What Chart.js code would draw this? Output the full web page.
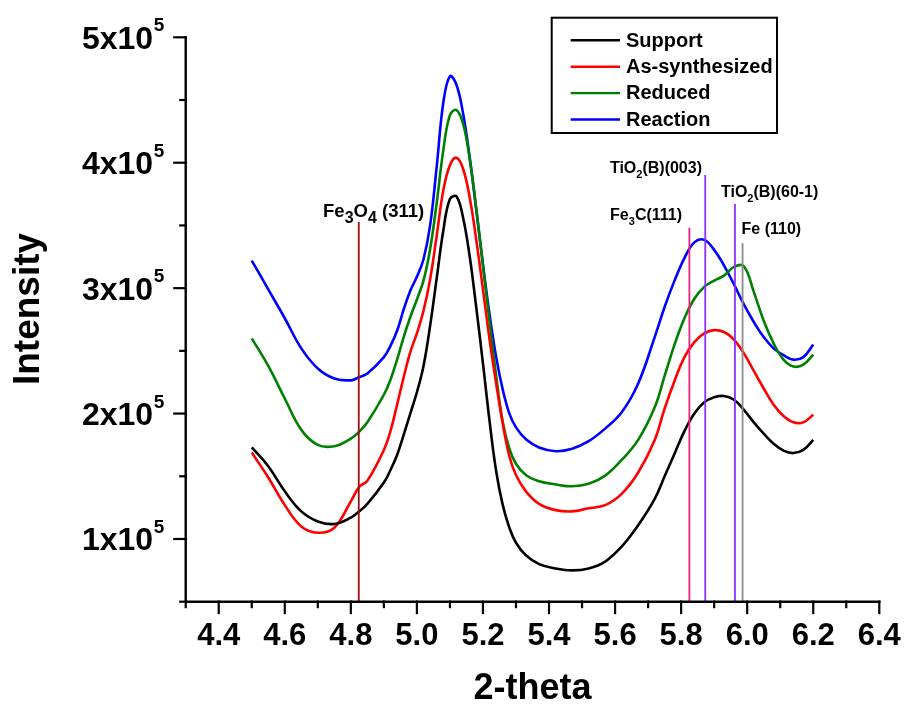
<!DOCTYPE html>
<html>
<head>
<meta charset="utf-8">
<script src="https://cdn.jsdelivr.net/npm/chart.js@4.4.1/dist/chart.umd.min.js"></script>
<style>
  html, body { margin: 0; padding: 0; background: #ffffff; }
  #wrap { width: 906px; height: 707px; position: relative; }
</style>
</head>
<body>
<div id="wrap"><canvas id="xrd" width="906" height="707"></canvas></div>
<script>
// 2-theta sample positions shared by all patterns
const theta = [4.50, 4.55, 4.60, 4.65, 4.70, 4.75, 4.80, 4.825, 4.85, 4.90,
  4.92, 4.94, 4.96, 4.98, 5.00, 5.02, 5.04, 5.06, 5.08, 5.10,
  5.12, 5.14, 5.16, 5.18, 5.20, 5.22, 5.24, 5.26, 5.28, 5.30,
  5.33, 5.37, 5.42, 5.47, 5.52, 5.57, 5.62, 5.67, 5.72, 5.75,
  5.78, 5.81, 5.84, 5.87, 5.90, 5.93, 5.96, 5.99, 6.02, 6.05,
  6.08, 6.11, 6.14, 6.17, 6.20];

// Intensities (counts)
const support = [173000, 158000, 138000, 122000, 114000, 112000, 117000, 122000, 128000, 145000,
  155000, 167000, 183000, 200000, 217000, 238000, 270000, 308000, 346000, 371000,
  373000, 356000, 325000, 284000, 240000, 194000, 154000, 127000, 109000, 97000,
  87000, 80000, 76500, 75000, 76500, 82000, 94000, 111000, 132000, 150000,
  168000, 186000, 200000, 209000, 213000, 214000, 211000, 203000, 193000, 184000,
  176000, 170500, 168500, 171000, 179000];

const asSynthesized = [169000, 149000, 127000, 110000, 105000, 109000, 130000, 141500, 146500, 171000,
  186000, 207000, 229000, 249000, 264000, 282000, 307000, 342000, 378000, 398000,
  404000, 395000, 372000, 338000, 299000, 259000, 224000, 192000, 166000, 151000,
  138000, 128000, 123000, 122000, 124500, 127000, 136000, 153000, 179000, 204000,
  226000, 245000, 257000, 264000, 266500, 265000, 259000, 248000, 234000, 220000,
  207000, 198000, 193000, 193000, 199000];

const reduced = [260000, 238000, 212000, 187000, 175000, 174000, 180000, 185500, 193000, 215000,
  227000, 243000, 261000, 277000, 291000, 306000, 331000, 368000, 410000, 438000,
  442000, 431000, 403000, 363000, 318000, 273000, 230000, 193000, 172000, 160000,
  151000, 146000, 143500, 142000, 144000, 150500, 163000, 179000, 205000, 230000,
  255000, 276000, 291500, 301000, 306000, 310000, 317000, 317500, 297000, 274000,
  256000, 243000, 237500, 239000, 247000];

const reaction = [322000, 299000, 276000, 252000, 236000, 228000, 226500, 229000, 232000, 245000,
  254000, 266000, 283000, 298000, 309000, 323000, 350000, 397000, 448000, 469000,
  462000, 439000, 404000, 362000, 319000, 279000, 245000, 219000, 200000, 189000,
  179500, 173000, 170000, 172000, 178000, 188000, 201000, 224000, 261000, 285000,
  306000, 324000, 336500, 338500, 330500, 318000, 303000, 287000, 273000, 261000,
  252000, 246500, 243000, 245000, 255000];

const seriesNames = ['Support', 'As-synthesized', 'Reduced', 'Reaction'];
const seriesValues = [support, asSynthesized, reduced, reaction];
const seriesColors = ['#000000', '#ff0000', '#008000', '#0000ff'];

// Axis ticks
const xTicks = [4.3, 4.4, 4.5, 4.6, 4.7, 4.8, 4.9, 5.0, 5.1, 5.2, 5.3,
  5.4, 5.5, 5.6, 5.7, 5.8, 5.9, 6.0, 6.1, 6.2, 6.3, 6.4];
const yTicks = [50000, 100000, 150000, 200000, 250000, 300000, 350000, 400000, 450000, 500000];

// Reference reflections: position (2-theta) and marker height (counts)
const refPositions = [4.824, 5.825, 5.873, 5.963, 5.986];
const refHeights = [352700, 348200, 390200, 367100, 335800];
// Label pieces: [text, isSubscript]
const refLabels = [
  [['Fe', 0], ['3', 1], ['O', 0], ['4', 1], [' (311)', 0]],
  [['Fe', 0], ['3', 1], ['C(111)', 0]],
  [['TiO', 0], ['2', 1], ['(B)(003)', 0]],
  [['TiO', 0], ['2', 1], ['(B)(60-1)', 0]],
  [['Fe (110)', 0]]
];

const FONT = 'Arial, "Liberation Sans", Helvetica, sans-serif';
const refStyle = [
  { color: '#9b1010', size: 18.5, sub: 16, drop: 6, dx: -35.7, dy: -5 },
  { color: '#f0207f', size: 16, sub: 11, drop: 5, dx: -79.3, dy: -7.7 },
  { color: '#8f2fff', size: 16, sub: 11, drop: 5, dx: -95.3, dy: -1.7 },
  { color: '#8f2fff', size: 16, sub: 11, drop: 5, dx: -14, dy: -7.3 },
  { color: '#8a8a8a', size: 16, sub: 11, drop: 5, dx: -1, dy: -9.3 }
];

function drawRich(ctx, pieces, x, baseline, st) {
  let cx = x;
  ctx.textAlign = 'left';
  ctx.textBaseline = 'alphabetic';
  for (const [txt, sub] of pieces) {
    ctx.font = 'bold ' + (sub ? st.sub : st.size) + 'px ' + FONT;
    ctx.fillText(txt, cx, baseline + (sub ? st.drop : 0));
    cx += ctx.measureText(txt).width;
  }
}

// Reference lines and their labels, drawn over the patterns
const refMarkers = {
  id: 'refMarkers',
  afterDatasetsDraw(chart) {
    const { ctx, chartArea: a, scales: { x, y } } = chart;
    ctx.save();
    refPositions.forEach((pos, i) => {
      const st = refStyle[i];
      const px = x.getPixelForValue(pos);
      const top = y.getPixelForValue(refHeights[i]);
      ctx.strokeStyle = st.color;
      ctx.lineWidth = 1.8;
      ctx.beginPath();
      ctx.moveTo(px, a.bottom);
      ctx.lineTo(px, top);
      ctx.stroke();
      ctx.fillStyle = '#000';
      drawRich(ctx, refLabels[i], px + st.dx, top + st.dy, st);
    });
    ctx.restore();
  }
};

// Axis lines, tick marks, power-of-ten tick labels, y title and the boxed legend
const axisDecor = {
  id: 'axisDecor',
  afterDraw(chart) {
    const { ctx, chartArea: a, scales: { x, y } } = chart;
    ctx.save();
    ctx.strokeStyle = '#000';
    ctx.lineWidth = 2.4;
    ctx.beginPath();
    ctx.moveTo(a.left, a.top - 1.2);
    ctx.lineTo(a.left, a.bottom);
    ctx.moveTo(a.left, a.bottom);
    ctx.lineTo(a.right + 1.2, a.bottom);
    ctx.stroke();

    ctx.lineWidth = 2.2;
    x.ticks.forEach(t => {
      const px = x.getPixelForValue(t.value);
      const major = Math.round(t.value * 10) % 2 === 0;
      ctx.beginPath();
      ctx.moveTo(px, a.bottom - 1.2);
      ctx.lineTo(px, a.bottom + (major ? 12.5 : 6.5));
      ctx.stroke();
    });
    y.ticks.forEach(t => {
      const py = y.getPixelForValue(t.value);
      const major = Math.round(t.value / 50000) % 2 === 0;
      ctx.beginPath();
      ctx.moveTo(a.left + 1.2, py);
      ctx.lineTo(a.left - (major ? 12.5 : 6.5), py);
      ctx.stroke();
      if (major) {
        const mant = String(Math.round(t.value / 100000));
        ctx.fillStyle = '#000';
        ctx.textBaseline = 'alphabetic';
        ctx.textAlign = 'right';
        ctx.font = 'bold 19px ' + FONT;
        const right = a.left - 21.5;
        const supW = ctx.measureText('5').width;
        ctx.fillText('5', right, py - 6);
        ctx.font = 'bold 32px ' + FONT;
        ctx.fillText(mant + 'x10', right - supW - 0.5, py + 11.5);
      }
    });

    // y axis title
    ctx.save();
    ctx.translate(29, 309);
    ctx.rotate(-Math.PI / 2);
    ctx.fillStyle = '#000';
    ctx.font = 'bold 37px ' + FONT;
    ctx.textAlign = 'center';
    ctx.textBaseline = 'middle';
    ctx.fillText('Intensity', 0, 0);
    ctx.restore();

    // legend
    const box = { left: 551.7, top: 17.7, right: 777, bottom: 133 };
    ctx.lineWidth = 2;
    ctx.strokeStyle = '#000';
    ctx.strokeRect(box.left, box.top, box.right - box.left, box.bottom - box.top);
    chart.data.datasets.forEach((ds, i) => {
      const ry = 40.3 + i * 26.4;
      ctx.strokeStyle = ds.borderColor;
      ctx.lineWidth = 2.4;
      ctx.beginPath();
      ctx.moveTo(570.7, ry);
      ctx.lineTo(620, ry);
      ctx.stroke();
      ctx.fillStyle = '#000';
      ctx.font = 'bold 20px ' + FONT;
      ctx.textAlign = 'left';
      ctx.textBaseline = 'middle';
      ctx.fillText(ds.label, 626, ry + 0.8);
    });
    ctx.restore();
  }
};

new Chart(document.getElementById('xrd'), {
  type: 'line',
  data: {
    datasets: seriesValues.map((vals, i) => ({
      label: seriesNames[i],
      data: theta.map((t, j) => ({ x: t, y: vals[j] })),
      borderColor: seriesColors[i],
      backgroundColor: seriesColors[i],
      borderWidth: 2.6,
      pointRadius: 0,
      fill: false,
      tension: 0.4
    }))
  },
  options: {
    responsive: false,
    animation: false,
    events: [],
    layout: { padding: { left: 0, right: 26.7, top: 37.3, bottom: 0 } },
    plugins: { legend: { display: false }, tooltip: { enabled: false } },
    scales: {
      x: {
        type: 'linear',
        min: 4.3,
        max: 6.4,
        afterBuildTicks: s => { s.ticks = xTicks.map(v => ({ value: v })); },
        afterFit: s => { s.height = 105.3; s.paddingLeft = 0; s.paddingRight = 0; },
        grid: { display: false, drawTicks: false },
        border: { display: false },
        ticks: {
          autoSkip: false,
          maxRotation: 0,
          minRotation: 0,
          padding: 16,
          color: '#000',
          font: { family: FONT, size: 31, weight: 'bold' },
          callback: v => (Math.round(v * 10) % 2 === 0 ? Number(v).toFixed(1) : '')
        },
        title: {
          display: true,
          text: '2-theta',
          color: '#000',
          font: { family: FONT, size: 36, weight: 'bold', lineHeight: 1 },
          padding: { top: 0, bottom: 0 }
        }
      },
      y: {
        min: 50000,
        max: 500000,
        afterBuildTicks: s => { s.ticks = yTicks.map(v => ({ value: v })); },
        afterFit: s => { s.width = 185.7; s.paddingTop = 0; s.paddingBottom = 0; },
        grid: { display: false, drawTicks: false },
        border: { display: false },
        ticks: { display: false },
        title: { display: false }
      }
    }
  },
  plugins: [refMarkers, axisDecor]
});
</script>
</body>
</html>
